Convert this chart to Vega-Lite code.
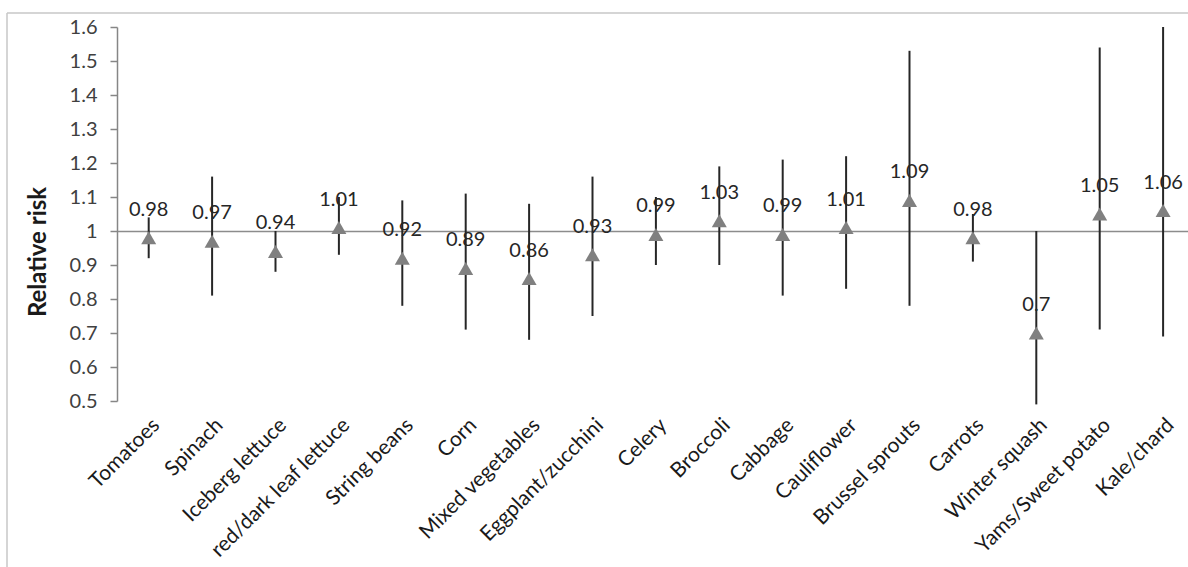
{
  "$schema": "https://vega.github.io/schema/vega-lite/v6.json",
  "width": 1181,
  "height": 554,
  "autosize": {"type": "none"},
  "padding": {"left": 7, "top": 13, "right": 0, "bottom": 0},
  "background": "white",
  "config": {"view": {"stroke": "#c8c8c8", "strokeWidth": 1.5, "strokeDash": [1181, 1735, 554, 0]}, "font": "Lato"},
  "data": {
    "values": [
      {"food": "Tomatoes", "rr": 0.98, "lo": 0.92, "hi": 1.04},
      {"food": "Spinach", "rr": 0.97, "lo": 0.81, "hi": 1.16},
      {"food": "Iceberg lettuce", "rr": 0.94, "lo": 0.88, "hi": 1.0},
      {"food": "red/dark leaf lettuce", "rr": 1.01, "lo": 0.93, "hi": 1.10},
      {"food": "String beans", "rr": 0.92, "lo": 0.78, "hi": 1.09},
      {"food": "Corn", "rr": 0.89, "lo": 0.71, "hi": 1.11},
      {"food": "Mixed vegetables", "rr": 0.86, "lo": 0.68, "hi": 1.08},
      {"food": "Eggplant/zucchini", "rr": 0.93, "lo": 0.75, "hi": 1.16},
      {"food": "Celery", "rr": 0.99, "lo": 0.90, "hi": 1.10},
      {"food": "Broccoli", "rr": 1.03, "lo": 0.90, "hi": 1.19},
      {"food": "Cabbage", "rr": 0.99, "lo": 0.81, "hi": 1.21},
      {"food": "Cauliflower", "rr": 1.01, "lo": 0.83, "hi": 1.22},
      {"food": "Brussel sprouts", "rr": 1.09, "lo": 0.78, "hi": 1.53},
      {"food": "Carrots", "rr": 0.98, "lo": 0.91, "hi": 1.05},
      {"food": "Winter squash", "rr": 0.7, "lo": 0.49, "hi": 1.0},
      {"food": "Yams/Sweet potato", "rr": 1.05, "lo": 0.71, "hi": 1.54},
      {"food": "Kale/chard", "rr": 1.06, "lo": 0.69, "hi": 1.60}
    ]
  },
  "encoding": {
    "x": {
      "field": "food",
      "type": "nominal",
      "sort": null,
      "scale": {"type": "band", "range": [110, 1187.8], "paddingInner": 0, "paddingOuter": 0},
      "axis": {
        "title": null,
        "orient": "bottom",
        "offset": -336,
        "domainColor": "#8c8c8c",
        "domainWidth": 1.5,
        "ticks": false,
        "labelAngle": -45,
        "labelPadding": 183,
        "labelFontSize": 21,
        "labelLimit": 400,
        "labelColor": "#1a1a1a",
        "labelFont": "Lato",
        "labelOverlap": false
      }
    }
  },
  "layer": [
    {
      "mark": {"type": "rule", "color": "#262626", "strokeWidth": 2},
      "encoding": {
        "y": {
          "field": "lo",
          "type": "quantitative",
          "scale": {"domain": [0.5, 1.6], "range": [388, 14], "nice": false, "zero": false},
          "axis": {
            "title": "Relative risk",
            "offset": -110,
            "values": [0.5, 0.6, 0.7, 0.8, 0.9, 1.0, 1.1, 1.2, 1.3, 1.4, 1.5, 1.6],
            "format": "~g",
            "grid": false,
            "domainColor": "#868686",
            "domainWidth": 1.5,
            "tickColor": "#868686",
            "tickWidth": 1.5,
            "tickSize": 7,
            "labelPadding": 13,
            "labelFontSize": 20,
            "labelColor": "#404040",
            "labelFont": "Lato",
            "titleFont": "Lato",
            "titleFontSize": 24,
            "titleFontWeight": "bold",
            "titleColor": "#1a1a1a",
            "titleAngle": -90,
            "titleAlign": "center",
            "titleBaseline": "middle",
            "titleX": -78.5,
            "titleY": 238.5
          }
        },
        "y2": {"field": "hi"}
      }
    },
    {
      "mark": {"type": "point", "shape": "triangle-up", "filled": true, "color": "#808080", "size": 225, "opacity": 1},
      "encoding": {
        "y": {
          "field": "rr",
          "type": "quantitative",
          "scale": {"domain": [0.5, 1.6], "range": [388, 14], "nice": false, "zero": false},
          "axis": {
            "title": "Relative risk",
            "offset": -110,
            "values": [0.5, 0.6, 0.7, 0.8, 0.9, 1.0, 1.1, 1.2, 1.3, 1.4, 1.5, 1.6],
            "format": "~g",
            "grid": false,
            "domainColor": "#868686",
            "domainWidth": 1.5,
            "tickColor": "#868686",
            "tickWidth": 1.5,
            "tickSize": 7,
            "labelPadding": 13,
            "labelFontSize": 20,
            "labelColor": "#404040",
            "labelFont": "Lato",
            "titleFont": "Lato",
            "titleFontSize": 24,
            "titleFontWeight": "bold",
            "titleColor": "#1a1a1a",
            "titleAngle": -90,
            "titleAlign": "center",
            "titleBaseline": "middle",
            "titleX": -78.5,
            "titleY": 238.5
          }
        }
      }
    },
    {
      "mark": {"type": "text", "dy": -28, "fontSize": 20, "color": "#262626", "font": "Lato", "baseline": "middle", "align": "center"},
      "encoding": {
        "y": {
          "field": "rr",
          "type": "quantitative",
          "scale": {"domain": [0.5, 1.6], "range": [388, 14], "nice": false, "zero": false}
        },
        "text": {"field": "rr", "type": "quantitative", "format": "~g"}
      }
    }
  ]
}
